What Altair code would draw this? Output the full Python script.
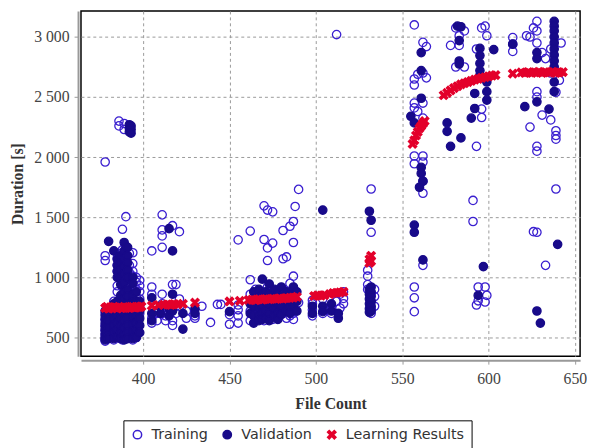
import altair as alt
import pandas as pd

# ---- data: (file count, [durations]) ----
train_cols = [
    (378, [1960, 1180, 1140, 700, 650, 600, 560, 520, 490, 470]),
    (380, [620, 560, 500]),
    (383, [800, 700, 600, 520, 480]),
    (385, [1200, 1160, 1100, 1050, 930, 880, 640, 560, 500]),
    (386, [2300, 2260]),
    (388, [1400, 1230, 1150, 1080, 1000, 920, 700, 600, 520, 480]),
    (389, [2280, 2230]),
    (390, [1505, 1250, 1180, 1120, 1050, 950, 780, 650, 560, 490]),
    (392, [1200, 1100, 1040, 980, 860, 720, 600, 510]),
    (394, [1205, 1115, 1050, 1010, 800, 650, 540, 480]),
    (396, [1000, 960, 900, 840, 720, 640, 560, 500]),
    (398, [975, 930, 880, 820, 760, 700]),
    (405, [1220, 920, 860, 660, 620]),
    (408, [700, 640]),
    (411, [1520, 1395, 1345, 1250, 860, 780, 700]),
    (413, [720, 680, 640]),
    (417, [1430, 940, 640, 600]),
    (419, [940, 760, 700]),
    (421, [1380, 820]),
    (425, [660, 720]),
    (430, [660, 680]),
    (434, [760]),
    (439, [625]),
    (443, [775]),
    (445, [775]),
    (450, [690, 610]),
    (455, [1312, 770, 730, 680, 620]),
    (462, [1385, 980, 860, 720, 640]),
    (465, [900, 760, 680]),
    (468, [840, 700, 650]),
    (470, [1595, 1315, 860, 750, 640]),
    (472, [1560, 1245, 1140, 920, 780, 700]),
    (475, [1545, 1285, 880, 720, 650]),
    (478, [850, 760, 680]),
    (481, [1390, 1155, 900, 700]),
    (483, [1170, 830, 720, 660]),
    (485, [1425, 950, 800, 680]),
    (487, [1465, 1290, 1010, 900, 760, 700, 650]),
    (488, [1590]),
    (490, [1732, 790]),
    (498, [810, 780, 730, 680]),
    (504, [820, 700]),
    (509, [700, 760]),
    (512, [3020, 800]),
    (514, [745, 860]),
    (516, [825, 880, 780]),
    (530, [1060, 1010, 940, 900]),
    (532, [1735, 1375, 860, 800, 740, 700]),
    (534, [900, 840, 760]),
    (557, [3100, 2650, 2600, 2450, 2410, 2010, 1945, 920, 830, 715]),
    (559, [2690, 2380]),
    (562, [2955, 2700, 2450, 2325, 2010, 1960, 1800, 1700, 1100]),
    (564, [2920, 2660]),
    (578, [2930]),
    (581, [3075, 2750]),
    (583, [3010, 2930]),
    (586, [2750, 3050]),
    (591, [1640, 1465]),
    (593, [2090, 2900, 770]),
    (594, [920, 805]),
    (596, [3075, 2400, 2330]),
    (598, [3090, 920, 795]),
    (599, [3010, 850]),
    (614, [2995, 2940, 2880]),
    (622, [3010]),
    (624, [3000, 2250]),
    (626, [3075, 1380]),
    (628, [3130, 3050, 2950, 2545, 2500, 2090, 2050, 1375]),
    (631, [2870, 2350]),
    (633, [2820, 1100]),
    (636, [2310, 2700, 2900]),
    (639, [2540, 2220, 2180, 2150, 1735]),
    (641, [2640]),
    (642, [2950]),
]

val_cols = [
    (378, [720, 680, 650, 620, 590, 560, 530, 500, 480]),
    (380, [1300, 700, 640, 580, 520, 490]),
    (383, [1220, 780, 720, 660, 600, 540, 490]),
    (385, [1150, 1100, 1050, 1000, 800, 740, 680, 620, 560, 500]),
    (387, [1180, 1120, 1060, 1000, 940, 850, 790, 720, 660, 600, 540, 490]),
    (389, [1290, 1220, 1150, 1090, 1030, 960, 880, 820, 760, 700, 640, 580, 520, 480]),
    (391, [1250, 1180, 1120, 1060, 1000, 900, 840, 780, 720, 660, 600, 540, 490]),
    (392, [2270, 2240, 2210]),
    (393, [2260, 2230, 2200]),
    (394, [1000, 950, 850, 790, 730, 670, 610, 550, 490]),
    (396, [880, 800, 740, 680, 620, 560, 500]),
    (398, [800, 720, 660, 600, 540]),
    (405, [830, 700, 640]),
    (410, [760, 700]),
    (415, [1405, 740, 680]),
    (417, [1220, 860, 720]),
    (423, [570, 700]),
    (430, [740, 700]),
    (450, [715]),
    (462, [780, 700]),
    (464, [880, 760, 680, 620]),
    (467, [900, 820, 740, 680, 640]),
    (469, [985, 850, 760, 700, 650]),
    (471, [880, 800, 720, 660]),
    (473, [945, 860, 780, 700, 640]),
    (476, [900, 820, 740, 680]),
    (478, [860, 780, 700, 650]),
    (480, [920, 840, 760, 690]),
    (483, [880, 800, 720]),
    (485, [860, 760, 700]),
    (487, [920, 840, 760]),
    (489, [880, 800, 720]),
    (498, [760, 700]),
    (504, [1560, 760, 715]),
    (509, [780, 720]),
    (513, [660, 700]),
    (531, [1550, 900, 860, 820, 780, 740, 710]),
    (532, [1475, 920, 880, 840, 800, 760, 720]),
    (555, [2340]),
    (557, [2285, 1435, 1375]),
    (560, [1750]),
    (561, [2870, 2720, 2490, 1915, 1865]),
    (562, [1145, 1800]),
    (576, [2285, 2215]),
    (578, [2090]),
    (582, [3090]),
    (583, [2970, 2800, 2775]),
    (584, [3085, 2160]),
    (590, [2325]),
    (592, [2530, 2405]),
    (594, [850]),
    (595, [2905, 2845, 2780, 2720, 2680]),
    (597, [1090]),
    (599, [2625, 2545, 2475]),
    (603, [2895]),
    (614, [2940]),
    (621, [2420]),
    (628, [2870, 2820, 2460, 720]),
    (630, [620]),
    (635, [2400]),
    (638, [3130, 3090, 3050, 3000, 2950, 2900, 2850, 2800, 2750, 2625, 2545]),
    (640, [1275]),
]

learn_x = [378, 379, 380, 381, 382, 383, 384, 385, 386, 387, 388, 389, 390, 391,
           392, 393, 394, 395, 396, 397, 398, 399,
           405, 409, 412, 414, 416, 418, 420, 423, 430,
           450, 456, 461, 463, 465, 467, 469, 471, 473, 475, 477, 479, 481, 483,
           485, 487, 489,
           499, 501, 503, 505, 508, 510, 512, 514, 516,
           531, 531, 532, 532,
           556, 557, 558, 559, 560, 561, 562, 563,
           574, 576, 578, 580, 582, 584, 586, 588, 590, 592, 594, 596, 598, 600,
           602, 604,
           614, 619, 621, 623, 625, 627, 629, 631, 633, 635, 637, 639, 641, 643]
learn_y = [745, 755, 740, 750, 745, 752, 748, 742, 755, 748, 745, 752, 745, 750,
           745, 755, 752, 748, 750, 755, 752, 758,
           765, 770, 772, 775, 770, 778, 775, 780, 790,
           800, 805, 812, 815, 810, 818, 815, 820, 818, 822, 820, 825, 822, 828,
           830, 832, 838,
           845, 850, 848, 852, 860, 870, 872, 875, 880,
           1120, 1150, 1180, 1135,
           2110, 2140, 2180, 2210, 2240, 2260, 2280, 2300,
           2515, 2535, 2555, 2575, 2590, 2605, 2615, 2625, 2635, 2645, 2652,
           2660, 2665, 2672, 2678, 2683,
           2695, 2705, 2700, 2708, 2700, 2705, 2710, 2700, 2708, 2705, 2710,
           2700, 2705, 2708]

series = ["Training", "Validation", "Learning Results"]
stroke_colors = ["#3a1fd0", "#180a8a", "#e3002b"]
fill_colors = ["transparent", "#180a8a", "#e3002b"]
x_ticks = [400, 450, 500, 550, 600, 650]
y_ticks = [500, 1000, 1500, 2000, 2500, 3000]

rows = []
for x, ys in train_cols:
    for y in ys:
        rows.append({"fc": x, "dur": y, "series": "Training"})
for x, ys in val_cols:
    for y in ys:
        rows.append({"fc": x, "dur": y, "series": "Validation"})
for x, y in zip(learn_x, learn_y):
    rows.append({"fc": x, "dur": y, "series": "Learning Results"})
df = pd.DataFrame(rows)

xpath = ("M-1,-0.6L-0.6,-1L0,-0.4L0.6,-1L1,-0.6L0.4,0L1,0.6L0.6,1"
         "L0,0.4L-0.6,1L-1,0.6L-0.4,0Z")

leg = alt.Legend(title=None, orient="none", legendX=43, legendY=415,
                 direction="horizontal", strokeColor="black", padding=7,
                 labelFont="DejaVu Sans", labelFontSize=14.5, labelColor="#333",
                 columnPadding=12, labelOffset=7, symbolStrokeWidth=1.5)

chart = alt.Chart(df).mark_point(strokeWidth=1.3, opacity=1).encode(
    x=alt.X("fc:Q", scale=alt.Scale(domain=[364, 653], nice=False, zero=False),
            axis=alt.Axis(values=x_ticks, title="File Count", offset=4,
                          titlePadding=9, labelPadding=7)),
    y=alt.Y("dur:Q", scale=alt.Scale(domain=[344, 3216], nice=False, zero=False),
            axis=alt.Axis(values=y_ticks, title="Duration [s]", offset=3,
                          labelPadding=5, titlePadding=8,
                          labelExpr="replace(format(datum.value, ','), ',', ' ')")),
    shape=alt.Shape("series:N", scale=alt.Scale(domain=series,
                    range=["circle", "circle", xpath]), legend=leg),
    color=alt.Color("series:N", scale=alt.Scale(domain=series, range=stroke_colors),
                    legend=leg),
    fill=alt.Fill("series:N", scale=alt.Scale(domain=series, range=fill_colors),
                  legend=leg),
    size=alt.Size("series:N", scale=alt.Scale(domain=series, range=[72, 72, 140]),
                  legend=leg),
).properties(
    width=506, height=350,
    autosize=alt.AutoSizeParams(type="none"),
    padding={"left": 74, "top": 0, "right": 7, "bottom": 90},
).configure_view(
    stroke="black", strokeWidth=1.5
).configure_axis(
    grid=True, gridColor="#999", gridDash=[3, 3], gridWidth=1,
    domainColor="#999", domainWidth=2, tickColor="#999", tickSize=4,
    labelFont="Liberation Serif", labelFontSize=16, labelColor="#444",
    titleFont="Liberation Serif", titleFontSize=16, titleFontWeight="bold",
    titleColor="#333"
)

chart.save("out.html", embed_options={"renderer": "svg", "actions": False})
